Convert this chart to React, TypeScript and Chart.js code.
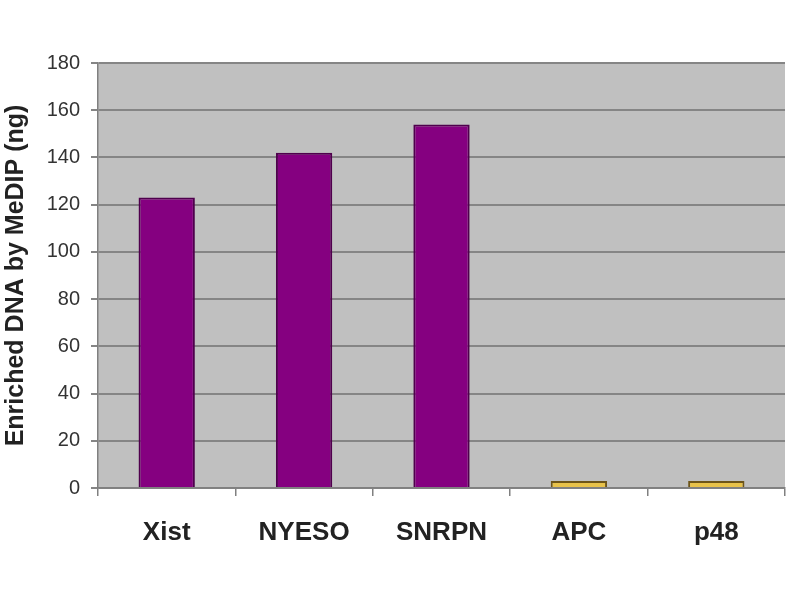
import React, { useEffect, useRef } from "react";
import { Chart, registerables } from "chart.js";

Chart.register(...registerables);

const categories = ["Xist", "NYESO", "SNRPN", "APC", "p48"];
const values = [123, 142, 154, 3, 3];
const barColors = ["#850080", "#850080", "#850080", "#e8c24a", "#e8c24a"];
const borderColors = ["#4f004d", "#4f004d", "#4f004d", "#6e5518", "#6e5518"];
const yTitle = "Enriched DNA by MeDIP (ng)";

const plotBg = {
  id: "plotBg",
  beforeDraw(chart: any) {
    const { ctx, chartArea } = chart;
    if (!chartArea) return;
    ctx.save();
    ctx.fillStyle = "#c0c0c0";
    ctx.fillRect(chartArea.left, chartArea.top, chartArea.right - chartArea.left, chartArea.bottom - chartArea.top);
    ctx.restore();
  },
};

export default function App() {
  const ref = useRef<HTMLCanvasElement | null>(null);
  useEffect(() => {
    document.body.style.margin = "0";
    const chart = new Chart(ref.current as HTMLCanvasElement, {
      type: "bar",
      data: {
        labels: categories,
        datasets: [
          {
            data: values,
            backgroundColor: barColors,
            borderColor: borderColors,
            borderWidth: 2,
            barPercentage: 0.41,
            categoryPercentage: 1,
          },
        ],
      },
      options: {
        animation: false,
        responsive: false,
        maintainAspectRatio: false,
        layout: { padding: { top: 63, right: 15, left: 0, bottom: 0 } },
        plugins: { legend: { display: false }, tooltip: { enabled: false } },
        scales: {
          x: {
            afterFit: (s: any) => {
              s.height = 112;
            },
            grid: {
              drawOnChartArea: false,
              drawTicks: true,
              tickLength: 8,
              color: "#808080",
              lineWidth: 1.5,
            },
            border: { color: "#808080", width: 1.5 },
            ticks: {
              color: "#222",
              padding: 21,
              font: { family: "Liberation Sans, Arial", size: 26, weight: "bold" },
            },
          },
          y: {
            min: 0,
            max: 180,
            afterFit: (s: any) => {
              s.width = 98;
            },
            grid: {
              color: "#858585",
              lineWidth: 2,
              tickLength: 7,
            },
            border: { color: "#808080", width: 1.5 },
            ticks: {
              stepSize: 20,
              color: "#333",
              padding: 11,
              font: { family: "Liberation Sans, Arial", size: 20 },
            },
            title: {
              display: true,
              text: yTitle,
              color: "#222",
              padding: { top: 1, bottom: 0 },
              font: { family: "Liberation Sans, Arial", size: 25, weight: "bold" },
            },
          },
        },
      },
      plugins: [plotBg],
    } as any);
    return () => chart.destroy();
  }, []);
  return <canvas ref={ref} width={800} height={600} style={{ display: "block" }} />;
}
